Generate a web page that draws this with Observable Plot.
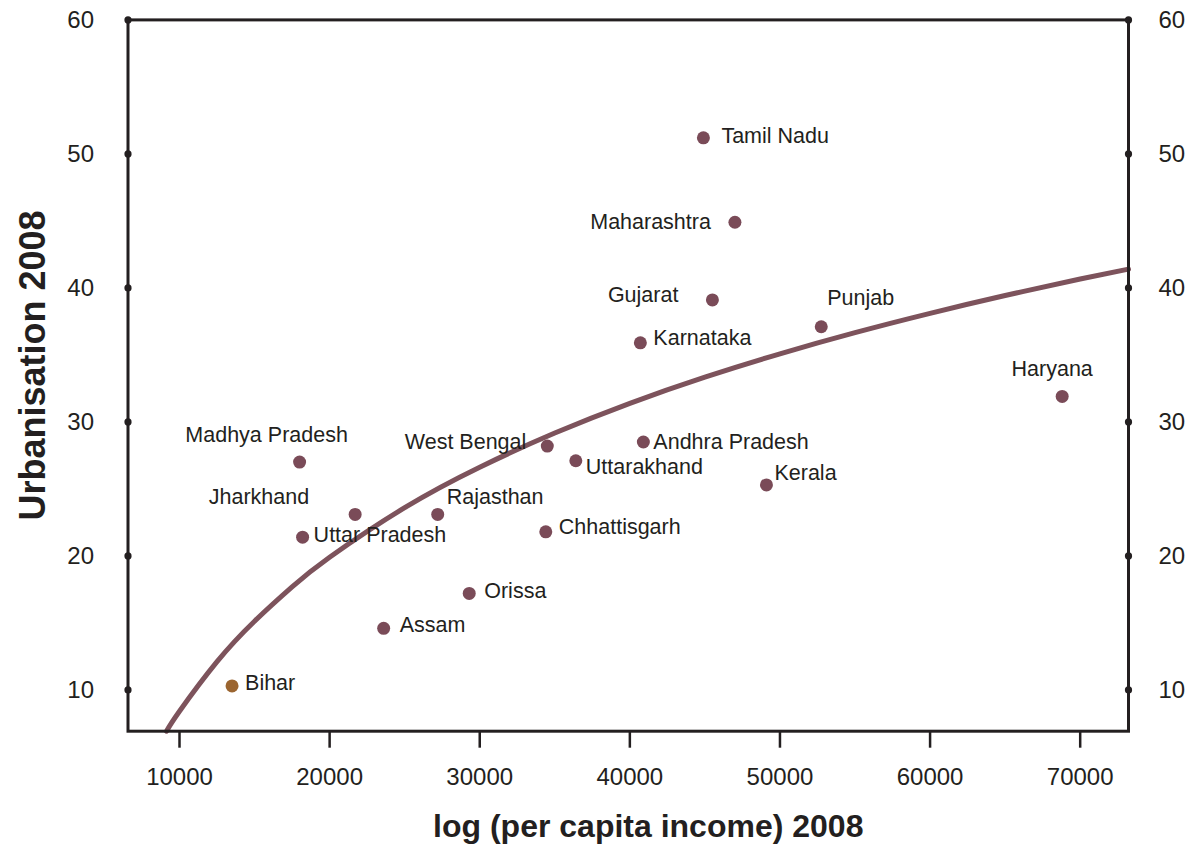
<!DOCTYPE html>
<html>
<head>
<meta charset="utf-8">
<script src="https://cdn.jsdelivr.net/npm/d3@7"></script>
<script src="https://cdn.jsdelivr.net/npm/@observablehq/plot@0.6"></script>
<style>
  html, body { margin: 0; padding: 0; background: #fff; }
  #chart svg { display: block; }
</style>
</head>
<body>
<div id="chart"></div>
<script>
// ---- data ----
const states = ["Tamil Nadu","Maharashtra","Gujarat","Punjab","Karnataka","Haryana","Madhya Pradesh","Jharkhand","Uttar Pradesh","Rajasthan","West Bengal","Uttarakhand","Andhra Pradesh","Chhattisgarh","Orissa","Assam","Kerala","Bihar"];
const income = [44900,47000,45500,52750,40700,68800,18000,21700,18200,27200,34500,36400,40900,34400,29300,23600,49100,13500];
const urbanisation = [51.2,44.9,39.1,37.1,35.9,31.9,27.0,23.1,21.4,23.1,28.2,27.1,28.5,21.8,17.2,14.6,25.3,10.3];

// trend curve
const curveIncome = [9134,10000,12500,15000,17500,20000,25000,30000,35000,40000,45000,50000,55000,60000,65000,70000,73218];
const curveUrban  = [6.92,8.41,12.11,15.13,17.69,19.90,23.60,26.62,29.17,31.39,33.34,35.08,36.66,38.10,39.43,40.66,41.40];

const xTicks = [10000,20000,30000,40000,50000,60000,70000];
const yTicks = [10,20,30,40,50,60];
const xDomain = [6569, 73218];
const yDomain = [6.92, 60];

const xTitle = "log (per capita income) 2008";
const yTitle = "Urbanisation 2008";

// ---- label placement (styling) ----
const placement = {
  "Tamil Nadu":     {dx: 18,  dy: -2,  anchor: "start"},
  "Maharashtra":    {dx: -24, dy: 0,   anchor: "end"},
  "Gujarat":        {dx: -34, dy: -5,  anchor: "end"},
  "Punjab":         {dx: 6,   dy: -29, anchor: "start"},
  "Karnataka":      {dx: 13,  dy: -5,  anchor: "start"},
  "Haryana":        {dx: -10, dy: -27, anchor: "middle"},
  "Madhya Pradesh": {dx: -33, dy: -27, anchor: "middle"},
  "Jharkhand":      {dx: -46, dy: -17, anchor: "end"},
  "Uttar Pradesh":  {dx: 11,  dy: -2,  anchor: "start"},
  "Rajasthan":      {dx: 9,   dy: -17, anchor: "start"},
  "West Bengal":    {dx: -21, dy: -4,  anchor: "end"},
  "Uttarakhand":    {dx: 10,  dy: 6,   anchor: "start"},
  "Andhra Pradesh": {dx: 10,  dy: 0,   anchor: "start"},
  "Chhattisgarh":   {dx: 13,  dy: -5,  anchor: "start"},
  "Orissa":         {dx: 15,  dy: -2,  anchor: "start"},
  "Assam":          {dx: 16,  dy: -3,  anchor: "start"},
  "Kerala":         {dx: 8,   dy: -12, anchor: "start"},
  "Bihar":          {dx: 13,  dy: -3,  anchor: "start"}
};

const data = states.map((s, i) => ({state: s, income: income[i], urban: urbanisation[i]}));
const curve = curveIncome.map((x, i) => ({income: x, urban: curveUrban[i]}));

const ink = "#231f20";
const dotColor = "#7a4b58";
const lineColor = "#7d535c";
const biharColor = "#9b6530";
const font = "Liberation Sans, Arial, Helvetica, sans-serif";

const labelMarks = data.map(d => {
  const p = placement[d.state];
  return Plot.text([d], {
    x: "income", y: "urban", text: "state",
    dx: p.dx, dy: p.dy, textAnchor: p.anchor, lineAnchor: "middle",
    fontSize: 21.5, fill: ink
  });
});

const chart = Plot.plot({
  width: 1191,
  height: 855,
  marginTop: 19.4,
  marginBottom: 124.3,
  marginLeft: 127.5,
  marginRight: 63,
  style: {fontFamily: font, background: "#fff"},
  x: {domain: xDomain},
  y: {domain: yDomain},
  marks: [
    Plot.line(curve, {x: "income", y: "urban", stroke: lineColor, strokeWidth: 5, curve: "natural"}),
    Plot.frame({stroke: ink, strokeWidth: 3}),
    Plot.axisX({ticks: xTicks, tickFormat: d3.format("d"), tickSize: 17, tickPadding: 20, strokeWidth: 2.5, stroke: ink, fontSize: 24, color: ink, label: null}),
    Plot.axisY({anchor: "left", ticks: yTicks, tickSize: 0, tickPadding: 34, fontSize: 24, color: ink, label: null}),
    Plot.axisY({anchor: "right", ticks: yTicks, tickSize: 0, tickPadding: 30, fontSize: 24, color: ink, label: null}),
    Plot.dot(yTicks, {y: d => d, frameAnchor: "left", r: 3.6, fill: ink}),
    Plot.dot(yTicks, {y: d => d, frameAnchor: "right", r: 3.6, fill: ink}),
    Plot.dot(data, {x: "income", y: "urban", r: 6.5, fill: d => d.state === "Bihar" ? biharColor : dotColor}),
    ...labelMarks,
    Plot.text([xTitle], {frameAnchor: "bottom", textAnchor: "middle", dx: 20, dy: 96, lineAnchor: "middle", fontSize: 32, fontWeight: "bold", fill: ink}),
    Plot.text([yTitle], {frameAnchor: "left", textAnchor: "middle", dx: -95, dy: -10, rotate: -90, lineAnchor: "middle", fontSize: 36, fontWeight: "bold", fill: ink})
  ]
});

document.getElementById("chart").appendChild(chart);
</script>
</body>
</html>
